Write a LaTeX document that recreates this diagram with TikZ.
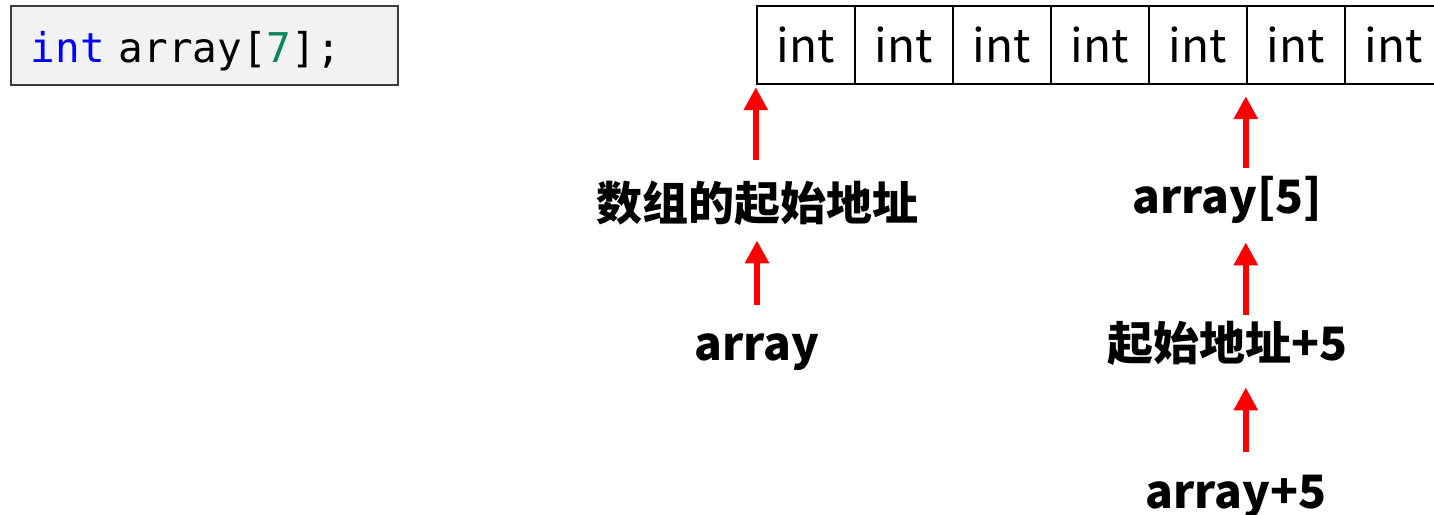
\documentclass[tikz,border=0pt]{standalone}
\usepackage{fontspec}
\setmainfont{Noto Sans CJK SC}
\setmonofont{DejaVu Sans Mono}
\usetikzlibrary{arrows.meta}

\definecolor{kwblue}{RGB}{0,0,255}
\definecolor{numgreen}{RGB}{9,134,88}
\definecolor{codebg}{RGB}{242,242,242}
\definecolor{codeframe}{RGB}{60,60,60}

\tikzset{
  cell/.style={draw, line width=1.2pt, minimum width=49pt, minimum height=39pt, inner sep=0pt, font=\fontsize{23}{26}\selectfont},
  lbl/.style={anchor=base, inner sep=0pt, text height=20pt, text depth=5pt, font=\bfseries\fontsize{23}{26}\selectfont},
  ptr/.style={-{Triangle[width=11.5pt,length=11.5pt]}, red, line width=3pt},
}

\begin{document}
\begin{tikzpicture}[x=0.5pt,y=-0.5pt]
\useasboundingbox (0,0) rectangle (1434,514);
\node[draw=codeframe, fill=codebg, line width=1pt, anchor=west, text width=173.5pt, inner xsep=10pt, minimum height=39.5pt, align=left, text height=18pt, text depth=1pt, font=\ttfamily\fontsize{20.5}{22}\selectfont] (decl) at (10,45.5) {\textcolor{kwblue}{int} array[\textcolor{numgreen}{7}];};
\foreach \i in {0,...,7}
  \node[cell] (c\i) at (806+98*\i,45) {int};
\node[lbl] (lblstart) at (757,220) {数组的起始地址};
\node[lbl] (lblarr) at (757,360) {array};
\node[lbl] (lblidx) at (1227,213) {array[5]};
\node[lbl] (lbloff) at (1227,360) {起始地址+5};
\node[lbl] (lblsum) at (1236,508) {array+5};
\draw[ptr, shorten <=10pt, shorten >=1pt] (lblstart.north -| c0.south west) -- (c0.south west);
\draw[ptr, shorten <=7.5pt, shorten >=5pt] (lblarr.north) -- (lblstart.south);
\draw[ptr, shorten <=2.5pt, shorten >=5.5pt] (lblidx.north -| c5.south west) -- (c5.south west);
\draw[ptr, shorten <=2.5pt, shorten >=9.5pt] (lbloff.north -| c5.south west) -- (lblidx.south -| c5.south west);
\draw[ptr, shorten <=8pt, shorten >=8.5pt] (lblsum.north -| c5.south west) -- (lbloff.south -| c5.south west);
\end{tikzpicture}
\end{document}
